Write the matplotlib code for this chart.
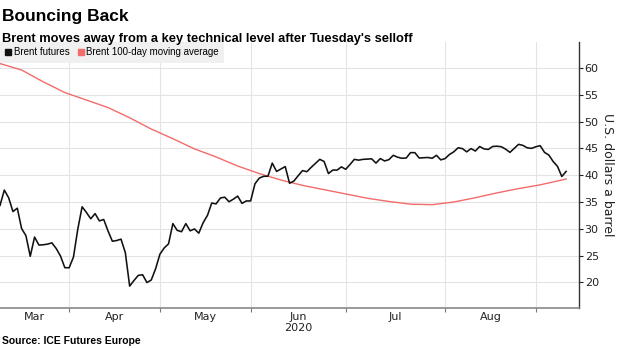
import matplotlib.pyplot as plt
import matplotlib.ticker as mticker
from matplotlib.lines import Line2D
import pandas as pd

# ICE trading days, Good Friday closed
trading_days = pd.bdate_range('2020-03-09', '2020-09-09').drop(pd.Timestamp('2020-04-10'))

brent = [
    # Mar
    34.36, 37.22, 35.79, 33.22, 33.85, 30.05, 28.73, 24.88, 28.47, 26.98,
    27.03, 27.15, 27.39, 26.34, 24.93, 22.76, 22.74,
    # Apr
    24.74, 29.94, 34.11, 33.05, 31.87, 32.84, 31.48, 31.74, 29.60, 27.69,
    27.82, 28.08, 25.57, 19.33, 20.37, 21.33, 21.44, 19.99, 20.46, 22.54, 25.27,
    # May
    26.44, 27.20, 30.97, 29.72, 29.46, 30.97, 29.63, 29.98, 29.19, 31.13,
    32.50, 34.81, 34.65, 35.75, 35.90, 35.05, 35.53, 36.10, 34.74, 35.20, 35.20,
    # Jun
    38.40, 39.45, 39.79, 39.80, 42.25, 40.70, 41.15, 41.60, 38.50, 38.90,
    39.90, 40.85, 40.65, 41.45, 42.20, 42.95, 42.55, 40.30, 40.95, 40.95,
    41.55, 41.10,
    # Jul
    42.00, 42.95, 42.80, 42.95, 43.00, 43.05, 42.25, 43.10, 42.65, 42.90,
    43.70, 43.35, 43.15, 43.20, 44.20, 44.20, 43.20, 43.25, 43.30, 43.15,
    43.70, 42.85, 43.10,
    # Aug
    43.85, 44.35, 45.10, 44.95, 44.35, 44.95, 44.50, 45.35, 44.90, 44.80,
    45.35, 45.40, 45.30, 44.85, 44.25, 45.00, 45.75, 45.55, 45.10, 45.00,
    45.30,
    # Sep
    45.50, 44.25, 43.75, 42.55, 41.65, 39.75, 40.70,
]

# 100-day moving average, one reading per five sessions plus the last one
ma_values = [
    60.8, 59.6, 57.4, 55.4, 54.0, 52.6, 50.7, 48.6, 46.8, 44.9,
    43.4, 41.7, 40.3, 39.1, 38.1, 37.3, 36.5, 35.7, 35.1, 34.6,
    34.5, 35.0, 35.8, 36.7, 37.5, 38.2, 39.1, 39.3,
]

month_names = ['Mar', 'Apr', 'May', 'Jun', 'Jul', 'Aug']
year_label = '2020'
y_ticks = [20, 25, 30, 35, 40, 45, 50, 55, 60]

n = len(trading_days)
x = list(range(n))
ma_x = list(range(0, n, 5)) + [n - 1]

# gridlines sit on the last session of each month
months = trading_days.month
month_ends = [i for i in range(n - 1) if months[i] != months[i + 1]]
edges = [0] + month_ends
label_pos = [(edges[i] + edges[i + 1]) / 2 for i in range(len(month_names))]

BLACK = '#111111'
RED = '#f36b6b'
GRID = '#e4e4e4'
narrow = ['Liberation Sans Narrow', 'Liberation Sans', 'DejaVu Sans']

fig = plt.figure(figsize=(6.2, 3.48), dpi=100)
ax = fig.add_axes([0.0, 0.115, 0.934, 0.764])

ax.plot(ma_x, ma_values, color=RED, lw=1.0, zorder=2)
ax.plot(x, brent, color=BLACK, lw=1.15, zorder=3)

ax.set_xlim(0, 134.0)
ax.set_ylim(15.25, 64.8)

ax.yaxis.tick_right()
ax.yaxis.set_label_position('right')
ax.set_yticks(y_ticks)
ax.tick_params(axis='y', direction='out', length=3, width=0.8, pad=1,
               labelsize=8, colors='#222222')
ax.set_ylabel('U.S. dollars a barrel', rotation=270, labelpad=11,
              fontsize=9, color='#222222')

ax.set_xticks(month_ends)
ax.xaxis.set_major_formatter(mticker.NullFormatter())
ax.set_xticks(label_pos, minor=True)
ax.set_xticklabels(month_names, minor=True)
ax.tick_params(axis='x', which='major', direction='out', length=3,
               width=0.8, color='#777777')
ax.tick_params(axis='x', which='minor', length=0, labelsize=8, pad=3,
               colors='#222222')
ax.text(label_pos[3], -0.056, year_label, transform=ax.get_xaxis_transform(),
        ha='center', va='top', fontsize=8, color='#222222')

ax.grid(True, which='major', color=GRID, lw=0.8)
ax.set_axisbelow(True)

for side in ['top', 'left']:
    ax.spines[side].set_visible(False)
ax.spines['right'].set_color('#333333')
ax.spines['bottom'].set_color('#888888')
ax.spines['right'].set_linewidth(1.0)
ax.spines['bottom'].set_linewidth(1.2)

handles = [
    Line2D([], [], ls='', marker='s', ms=5, color=BLACK, label='Brent futures'),
    Line2D([], [], ls='', marker='s', ms=5, color=RED, label='Brent 100-day moving average'),
]
leg = ax.legend(handles=handles, loc='upper left', bbox_to_anchor=(0, 1),
                ncol=2, frameon=True, fancybox=False, borderaxespad=0,
                handlelength=0.6, handletextpad=0.3, columnspacing=0.8,
                borderpad=0.55, prop={'family': narrow, 'size': 7})
leg.get_frame().set_facecolor('#f0f0f0')
leg.get_frame().set_edgecolor('none')
leg.get_frame().set_alpha(1)

fig.text(0.004, 0.975, 'Bouncing Back', ha='left', va='top',
         fontsize=12.5, fontweight='bold', family=['Liberation Sans', 'DejaVu Sans'])
fig.text(0.004, 0.905, "Brent moves away from a key technical level after Tuesday's selloff",
         ha='left', va='top', fontsize=9.3, fontweight='bold', family=narrow)
fig.text(0.004, 0.006, 'Source: ICE Futures Europe', ha='left', va='bottom',
         fontsize=7.5, fontweight='bold', family=narrow)

fig.savefig('out.png', dpi=100)
